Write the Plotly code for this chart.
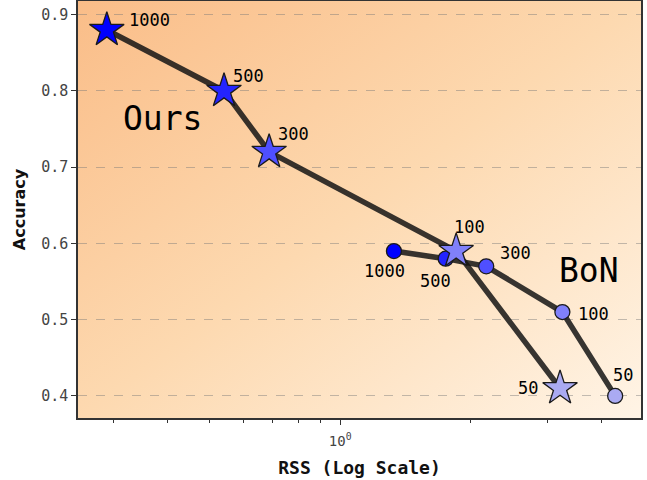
import base64
import math
import plotly.graph_objects as go

# ---- data ----
budgets = ["1000", "500", "300", "100", "50"]
ours_rss = [0.29, 0.54, 0.686, 1.85, 3.21]
ours_acc = [0.88, 0.80, 0.72, 0.59, 0.41]
bon_rss = [1.33, 1.75, 2.17, 3.25, 4.30]
bon_acc = [0.59, 0.58, 0.57, 0.51, 0.40]
y_ticks = [0.4, 0.5, 0.6, 0.7, 0.8, 0.9]
y_tick_labels = ["0.4", "0.5", "0.6", "0.7", "0.8", "0.9"]
x_ticks = [1]
x_tick_labels = ["10<sup>0</sup>"]
x_minor = [0.3, 0.4, 0.5, 0.6, 0.7, 0.8, 0.9, 2, 3, 4]

# ---- styles ----
marker_colors = ["#0000ff", "#2424ff", "#4f4fff", "#8080fa", "#aaaaf2"]
MONO = "DejaVu Sans Mono"
line_style = dict(color="rgba(20,20,20,0.85)", width=5.5)

# label offsets (xanchor, xshift px, yshift px)
ours_off = [("left", 20, 10), ("left", 7, 15), ("left", 7, 18), ("center", 13, 24), ("right", -20, 0)]
bon_off = [("center", -9, -20), ("center", -10, -22), ("left", 12, 13), ("left", 14, -2), ("center", 8, 21)]

svg = """<svg xmlns='http://www.w3.org/2000/svg' width='400' height='300' preserveAspectRatio='none'>
<defs><linearGradient id='g' x1='0' y1='0' x2='1' y2='1'>
<stop offset='0' stop-color='#fabd88'/>
<stop offset='0.5' stop-color='#fdd9b0'/>
<stop offset='1' stop-color='#fff4e6'/>
</linearGradient></defs>
<rect width='400' height='300' fill='url(#g)'/></svg>"""
bg_src = "data:image/svg+xml;base64," + base64.b64encode(svg.encode()).decode()

fig = go.Figure()

fig.add_trace(go.Scatter(
    x=bon_rss, y=bon_acc, mode="lines+markers", line=line_style,
    marker=dict(symbol="circle", size=15, color=marker_colors,
                line=dict(color="#1a1a1a", width=1.3)),
    showlegend=False, hoverinfo="skip"))
fig.add_trace(go.Scatter(
    x=ours_rss, y=ours_acc, mode="lines+markers", line=line_style,
    marker=dict(symbol="star", size=26, color=marker_colors,
                line=dict(color="#1a1a1a", width=1.3)),
    showlegend=False, hoverinfo="skip"))

for xs, ys, offs in [(ours_rss, ours_acc, ours_off), (bon_rss, bon_acc, bon_off)]:
    for xv, yv, lab, (xa, dx, dy) in zip(xs, ys, budgets, offs):
        fig.add_annotation(x=math.log10(xv), y=yv, text=lab, showarrow=False,
                           xanchor=xa, yanchor="middle", xshift=dx, yshift=dy,
                           font=dict(family=MONO, size=17, color="black"))

fig.add_annotation(x=-0.41, y=0.764, text="Ours", showarrow=False,
                   font=dict(family=MONO, size=33, color="black"))
fig.add_annotation(x=0.573, y=0.565, text="BoN", showarrow=False,
                   font=dict(family=MONO, size=33, color="black"))

fig.add_layout_image(dict(source=bg_src, xref="paper", yref="paper", x=0, y=1,
                          sizex=1, sizey=1, xanchor="left", yanchor="top",
                          sizing="stretch", layer="below"))

fig.update_layout(
    width=647, height=480,
    margin=dict(l=78, r=6, t=1, b=62, autoexpand=False),
    paper_bgcolor="white", plot_bgcolor="rgba(0,0,0,0)",
    xaxis=dict(type="log", range=[-0.604, 0.693], tickvals=x_ticks, ticktext=x_tick_labels,
               automargin=False,
               ticks="outside", ticklen=5, tickcolor="#333", showgrid=False, zeroline=False,
               minor=dict(tickvals=x_minor, ticks="outside", ticklen=3, tickcolor="#333", showgrid=False),
               showline=True, linecolor="#333", linewidth=1.5, mirror=True,
               tickfont=dict(family=MONO, size=14, color="#444"), ticklabelstandoff=4,
               title=dict(text="<b>RSS (Log Scale)</b>", font=dict(family=MONO, size=18, color="#111"),
                          standoff=14)),
    yaxis=dict(range=[0.371, 0.918], tickvals=y_ticks, ticktext=y_tick_labels,
               automargin=False,
               ticks="outside", ticklen=5, tickcolor="#333",
               showgrid=True, gridcolor="rgba(120,120,120,0.45)", griddash="dash", gridwidth=1,
               zeroline=False, showline=True, linecolor="#333", linewidth=1.5, mirror=True,
               tickfont=dict(family=MONO, size=15, color="#444"),
               title=dict(text="<b>Accuracy</b>", font=dict(family="DejaVu Sans", size=16, color="#111"),
                          standoff=12)),
)

fig.write_html("out.html", config={"displayModeBar": False},
               post_script="document.body.style.margin='0';document.body.style.padding='0';")
